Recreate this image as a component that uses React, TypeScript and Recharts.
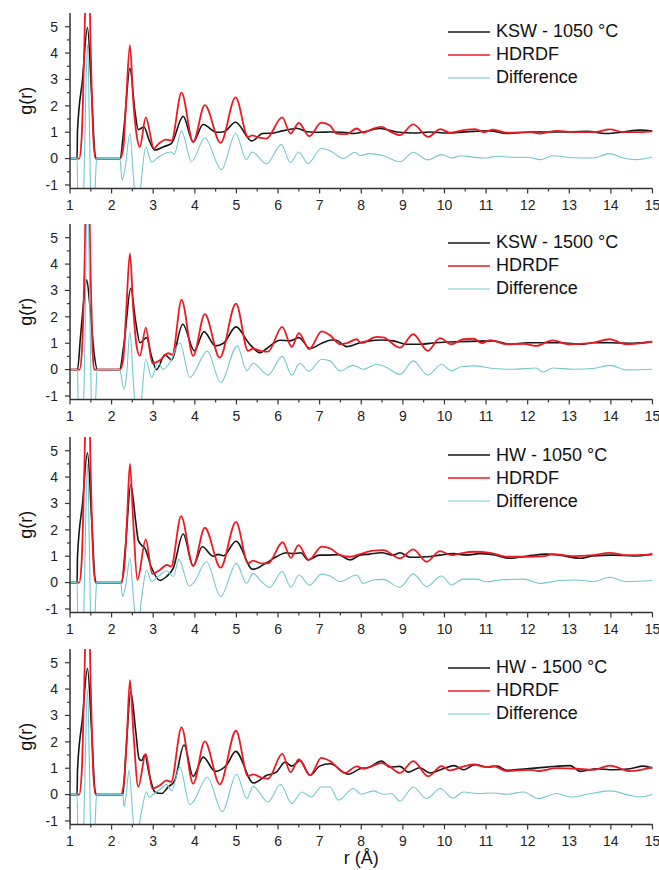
import { LineChart, Line, XAxis, YAxis, Legend } from 'recharts';

type Pt = [number, number];

// panel 1: KSW - 1050 °C
const ksw1050: Pt[] = [[1.0,0],[1.17,0],[1.18,1.05],[1.3,3.0],[1.42,4.97],[1.52,2.4],[1.6,0.15],[1.63,0],[2.2,0],[2.3,1.2],[2.44,3.42],[2.56,1.8],[2.64,1.1],[2.78,1.2],[2.9,0.7],[3.04,0.32],[3.25,0.45],[3.44,0.58],[3.72,1.6],[3.96,0.63],[4.2,1.29],[4.52,1.0],[4.7,1.02],[4.98,1.38],[5.37,0.67],[5.63,0.95],[5.9,0.97],[6.1,1.05],[6.33,1.12],[6.45,1.15],[6.7,1.02],[7.0,1.0],[7.25,1.01],[7.57,1.0],[7.81,0.95],[8.05,1.01],[8.45,1.14],[8.85,1.01],[9.25,0.97],[9.65,1.01],[10.05,0.97],[10.7,1.03],[11.1,1.05],[11.5,0.95],[12.06,1.01],[12.86,1.01],[13.42,1.03],[13.9,0.95],[14.3,1.01],[14.7,1.08],[15,1.04]];
const hdrdf1: Pt[] = [[1.0,0],[1.22,0],[1.28,0.8],[1.34,4],[1.42,9.3],[1.5,4],[1.56,0.8],[1.62,0],[2.2,0],[2.28,0.4],[2.35,2.2],[2.44,4.3],[2.52,2.2],[2.6,0.9],[2.68,0.44],[2.82,1.56],[3.02,0.38],[3.12,0.55],[3.32,0.72],[3.44,0.68],[3.68,2.5],[3.96,0.63],[4.24,2.03],[4.62,0.6],[4.98,2.32],[5.28,0.82],[5.38,0.88],[5.52,0.8],[5.72,0.76],[6.1,1.56],[6.3,0.95],[6.5,1.35],[6.75,0.85],[7.04,1.36],[7.25,1.25],[7.41,0.95],[7.65,0.93],[7.89,1.14],[8.05,0.98],[8.29,1.14],[8.49,1.2],[8.7,1.02],[8.93,0.89],[9.25,1.3],[9.61,0.82],[9.9,1.12],[10.13,0.98],[10.46,1.08],[10.74,1.12],[10.95,1.0],[11.17,1.1],[11.5,0.98],[12.06,1.0],[12.3,0.95],[12.7,1.05],[13.2,1.0],[13.58,1.0],[13.98,1.11],[14.3,1.0],[14.7,1.0],[15,1.03]];
const diff1: Pt[] = [[1.0,0],[1.17,0],[1.19,-1.6],[1.27,-2.5],[1.33,-1.2],[1.36,1],[1.42,4.35],[1.47,1],[1.5,-1.5],[1.55,-2.2],[1.6,-1.2],[1.64,0],[2.2,0],[2.25,-0.82],[2.33,-0.3],[2.44,0.95],[2.52,-0.6],[2.6,-2],[2.68,-1.3],[2.82,0.44],[2.96,-0.13],[3.12,0.05],[3.32,0.22],[3.44,0.25],[3.5,0.15],[3.68,1.04],[3.92,-0.12],[4.24,0.78],[4.64,-0.42],[4.98,0.95],[5.24,-0.04],[5.38,0.25],[5.72,-0.2],[6.08,0.53],[6.3,-0.15],[6.5,0.25],[6.72,-0.19],[7.04,0.38],[7.25,0.3],[7.57,0.0],[7.85,0.24],[7.97,0.11],[8.2,0.19],[8.53,0.11],[8.93,-0.12],[9.25,0.24],[9.6,-0.05],[9.93,0.15],[10.17,0.02],[10.4,0.11],[10.65,0.06],[11.0,0.02],[11.25,0.09],[11.65,0.05],[12.0,0.05],[12.3,-0.04],[12.6,0.11],[13.1,0.03],[13.57,0.02],[13.97,0.19],[14.3,0.02],[14.6,-0.04],[15,0.06]];

// panel 2: KSW - 1500 °C
const ksw1500: Pt[] = [[1.0,0],[1.18,0],[1.25,1.2],[1.33,2.6],[1.4,3.4],[1.48,2.4],[1.58,0.6],[1.66,0],[2.19,0],[2.3,1.0],[2.46,3.08],[2.58,1.8],[2.68,1.02],[2.84,1.21],[2.96,0.5],[3.08,0.0],[3.28,0.56],[3.44,0.37],[3.71,1.72],[3.99,0.71],[4.22,1.44],[4.49,0.9],[4.69,1.0],[4.99,1.62],[5.3,1.0],[5.57,0.64],[5.73,0.8],[6.05,1.11],[6.29,1.09],[6.5,1.21],[6.77,0.8],[7.05,1.0],[7.29,1.12],[7.4,1.11],[7.65,0.87],[7.97,1.02],[8.2,1.09],[8.49,1.12],[8.77,1.09],[9.09,0.96],[9.4,0.96],[9.8,1.02],[10.37,1.06],[11.17,1.09],[11.57,0.96],[12.0,1.02],[12.77,1.02],[13.33,0.96],[13.57,1.02],[14.0,1.02],[14.53,1.0],[15,1.06]];
const hdrdf2: Pt[] = [[1.0,0],[1.23,0],[1.29,0.8],[1.35,4],[1.42,10],[1.49,4],[1.54,0.8],[1.58,0],[2.2,0],[2.28,0.4],[2.35,2.2],[2.44,4.41],[2.52,2.3],[2.6,0.9],[2.68,0.52],[2.82,1.59],[2.98,0.24],[3.16,0.35],[3.36,0.62],[3.46,0.56],[3.68,2.64],[3.96,0.52],[4.24,2.1],[4.6,0.45],[4.99,2.5],[5.28,0.71],[5.4,0.8],[5.6,0.7],[5.76,0.68],[6.1,1.62],[6.33,0.86],[6.5,1.38],[6.75,0.78],[7.05,1.45],[7.25,1.3],[7.49,0.96],[7.65,1.0],[7.89,1.15],[8.0,1.0],[8.37,1.24],[8.53,1.22],[8.93,0.83],[9.25,1.34],[9.6,0.71],[9.89,1.19],[10.17,0.96],[10.45,1.15],[10.7,1.17],[10.9,1.0],[11.1,1.12],[11.5,0.96],[11.9,0.98],[12.2,0.9],[12.6,1.11],[13.0,0.96],[13.5,1.0],[13.97,1.15],[14.37,0.96],[15,1.06]];
const diff2: Pt[] = [[1.0,0],[1.18,0],[1.2,-1.6],[1.28,-2.6],[1.34,-0.5],[1.42,7],[1.49,1],[1.52,-1.6],[1.57,-2.2],[1.62,-1.0],[1.65,0],[2.19,0],[2.3,-0.75],[2.36,-0.2],[2.44,1.43],[2.52,-0.4],[2.6,-2],[2.7,-1.4],[2.82,0.39],[2.96,-0.3],[3.12,0.27],[3.24,0.01],[3.4,0.27],[3.64,1.02],[3.88,-0.3],[4.3,0.7],[4.62,-0.49],[5.02,0.9],[5.25,-0.05],[5.4,0.24],[5.76,-0.21],[6.1,0.5],[6.33,-0.21],[6.52,0.24],[6.74,-0.06],[7.05,0.39],[7.25,0.33],[7.49,-0.05],[7.8,0.16],[8.05,0.01],[8.37,0.2],[8.57,0.11],[8.93,-0.18],[9.25,0.33],[9.6,-0.21],[9.93,0.2],[10.17,-0.05],[10.4,0.11],[10.7,0.14],[11.17,0.04],[11.65,0.01],[12.2,0.06],[12.37,-0.09],[12.6,0.06],[13.1,0.01],[13.57,0.04],[13.97,0.16],[14.37,-0.01],[15,0.01]];

// panel 3: HW - 1050 °C
const hw1050: Pt[] = [[1.0,0],[1.17,0],[1.18,0.98],[1.3,3.0],[1.42,4.92],[1.52,2.4],[1.6,0.15],[1.63,0],[2.24,0],[2.33,1.3],[2.46,3.71],[2.58,2.3],[2.64,1.61],[2.72,1.42],[2.8,1.3],[2.95,0.6],[3.16,0.08],[3.32,0.23],[3.48,0.54],[3.72,1.84],[3.96,0.63],[4.18,1.36],[4.44,1.0],[4.56,1.07],[4.69,1.02],[4.99,1.57],[5.39,0.5],[5.72,0.75],[5.96,0.98],[6.2,1.13],[6.36,1.1],[6.55,1.13],[6.72,0.86],[7.0,1.04],[7.17,1.04],[7.45,1.06],[7.73,0.86],[7.97,1.04],[8.2,1.08],[8.49,1.13],[8.77,1.04],[8.93,1.13],[9.17,0.96],[9.57,0.98],[9.89,1.04],[10.21,1.1],[10.53,1.04],[10.85,1.1],[11.17,1.06],[11.57,0.92],[12.0,1.01],[12.45,1.08],[12.77,1.04],[13.25,0.92],[13.57,1.01],[14.05,1.04],[14.53,1.01],[15,1.08]];
const hdrdf3: Pt[] = [[1.0,0],[1.22,0],[1.28,0.8],[1.34,4],[1.42,9.5],[1.5,4],[1.56,0.8],[1.62,0],[2.22,0],[2.3,0.5],[2.37,2.4],[2.44,4.5],[2.52,2.3],[2.62,0.1],[2.82,1.64],[2.98,0.33],[3.16,0.48],[3.33,0.67],[3.43,0.6],[3.67,2.52],[3.96,0.63],[4.24,2.08],[4.62,0.57],[4.99,2.3],[5.28,0.73],[5.4,0.83],[5.6,0.73],[5.76,0.73],[6.11,1.53],[6.31,0.94],[6.49,1.42],[6.74,0.86],[7.05,1.36],[7.25,1.3],[7.49,1.04],[7.73,0.98],[7.97,1.08],[8.29,1.21],[8.53,1.23],[8.93,0.92],[9.25,1.26],[9.57,0.79],[9.89,1.19],[10.17,1.04],[10.37,1.1],[10.7,1.17],[11.1,1.13],[11.5,0.98],[12.0,0.98],[12.4,1.0],[12.6,1.08],[13.1,1.0],[13.57,1.04],[13.97,1.13],[14.37,1.04],[15,1.06]];
const diff3: Pt[] = [[1.0,0],[1.17,0],[1.19,-1.6],[1.27,-2.5],[1.33,-1.2],[1.36,1],[1.42,4.5],[1.47,1],[1.5,-1.5],[1.55,-2.2],[1.6,-1.2],[1.64,0],[2.22,0],[2.26,-0.53],[2.34,-0.1],[2.44,0.92],[2.52,-0.5],[2.62,-1.8],[2.72,-0.6],[2.84,0.48],[2.96,0.04],[3.12,0.23],[3.32,0.45],[3.48,0.23],[3.62,0.88],[3.86,-0.13],[3.96,-0.03],[4.28,0.79],[4.62,-0.53],[5.0,0.73],[5.24,-0.03],[5.4,0.35],[5.6,0.04],[5.8,-0.18],[6.1,0.42],[6.31,-0.18],[6.5,0.29],[6.76,-0.1],[7.04,0.32],[7.25,0.25],[7.49,0.04],[7.89,0.29],[8.05,-0.03],[8.29,0.1],[8.53,0.12],[8.93,-0.18],[9.25,0.33],[9.57,-0.15],[9.93,0.25],[10.17,-0.09],[10.45,0.13],[10.78,0.13],[11.02,0.03],[11.33,0.1],[11.9,0.13],[12.3,-0.03],[12.77,0.08],[13.17,0.1],[13.57,0.04],[13.97,0.2],[14.37,0.04],[15,0.08]];

// panel 4: HW - 1500 °C
const hw1500: Pt[] = [[1.0,0],[1.17,0],[1.18,0.92],[1.3,2.9],[1.42,4.78],[1.52,2.4],[1.6,0.15],[1.63,0],[2.27,0],[2.34,1.5],[2.46,3.89],[2.58,2.4],[2.66,1.36],[2.72,1.29],[2.8,1.51],[2.9,0.8],[3.04,0.1],[3.2,0.04],[3.36,0.29],[3.52,0.54],[3.74,1.88],[3.96,0.69],[4.2,1.42],[4.49,0.88],[4.77,1.13],[4.98,1.64],[5.41,0.44],[5.73,0.73],[5.96,0.85],[6.17,1.23],[6.33,1.08],[6.53,1.29],[6.77,0.73],[7.0,1.08],[7.25,1.17],[7.69,0.77],[7.97,0.98],[8.2,1.04],[8.49,1.27],[8.69,1.04],[8.93,1.07],[9.13,0.85],[9.41,1.02],[9.65,0.82],[9.97,0.98],[10.23,1.1],[10.46,0.94],[10.74,1.14],[11.02,1.04],[11.26,1.08],[11.5,0.92],[11.98,0.98],[12.46,1.04],[13.02,1.1],[13.26,0.88],[13.66,0.98],[14.06,0.94],[14.46,0.98],[14.78,1.08],[15,1.0]];
const hdrdf4: Pt[] = [[1.0,0],[1.22,0],[1.28,0.8],[1.34,4],[1.42,9],[1.5,4],[1.56,0.8],[1.62,0],[2.22,0],[2.3,0.5],[2.37,2.3],[2.44,4.34],[2.53,2.2],[2.64,0.29],[2.82,1.54],[2.98,0.23],[3.16,0.35],[3.32,0.54],[3.43,0.48],[3.68,2.55],[3.96,0.41],[4.24,2.02],[4.6,0.39],[4.99,2.42],[5.28,0.69],[5.4,0.77],[5.6,0.64],[5.76,0.6],[6.1,1.54],[6.3,0.85],[6.5,1.33],[6.77,0.73],[7.04,1.39],[7.25,1.27],[7.61,0.82],[7.89,1.07],[8.05,0.98],[8.29,1.1],[8.49,1.19],[8.65,1.1],[8.93,0.82],[9.25,1.27],[9.61,0.69],[9.93,1.08],[10.13,0.92],[10.46,1.07],[10.69,1.14],[11.02,1.04],[11.17,1.08],[11.5,0.89],[12.06,0.94],[12.26,0.89],[12.7,1.0],[13.18,0.98],[13.58,0.94],[13.98,1.1],[14.46,0.89],[15,1.04]];
const diff4: Pt[] = [[1.0,0],[1.17,0],[1.19,-1.6],[1.27,-2.4],[1.33,-1.2],[1.36,0.8],[1.42,4.0],[1.47,0.8],[1.5,-1.5],[1.55,-2.2],[1.6,-1.2],[1.64,0],[2.27,0],[2.3,-0.46],[2.35,0.0],[2.42,0.92],[2.5,-0.6],[2.58,-1.8],[2.7,-0.8],[2.84,0.1],[2.9,-0.1],[3.02,0.04],[3.24,0.29],[3.32,0.39],[3.44,0.14],[3.64,1.04],[3.88,-0.38],[3.96,-0.28],[4.3,0.66],[4.66,-0.65],[5.0,0.77],[5.25,-0.15],[5.4,0.31],[5.76,-0.28],[6.06,0.38],[6.33,-0.34],[6.57,0.1],[6.8,-0.09],[7.04,0.29],[7.25,0.29],[7.45,-0.21],[7.81,0.23],[8.0,0.01],[8.29,0.14],[8.53,0.01],[8.73,0.04],[8.93,-0.25],[9.25,0.29],[9.57,-0.15],[9.9,0.23],[10.2,-0.13],[10.46,0.1],[10.78,0.04],[11.17,0.06],[11.5,0.01],[11.9,0.1],[12.26,-0.15],[12.7,0.04],[13.02,-0.09],[13.42,0.01],[13.98,0.14],[14.46,-0.03],[14.7,-0.09],[15,0.01]];

const sampleNames = ['KSW - 1050 °C', 'KSW - 1500 °C', 'HW - 1050 °C', 'HW - 1500 °C'];
const xTicks = [1, 1.5, 2, 2.5, 3, 3.5, 4, 4.5, 5, 5.5, 6, 6.5, 7, 7.5, 8, 8.5, 9, 9.5, 10, 10.5, 11, 11.5, 12, 12.5, 13, 13.5, 14, 14.5, 15];
const yTicks = [-1, -0.5, 0, 0.5, 1, 1.5, 2, 2.5, 3, 3.5, 4, 4.5, 5];

const panels = [
  { name: sampleNames[0], sample: ksw1050, model: hdrdf1, diff: diff1 },
  { name: sampleNames[1], sample: ksw1500, model: hdrdf2, diff: diff2 },
  { name: sampleNames[2], sample: hw1050, model: hdrdf3, diff: diff3 },
  { name: sampleNames[3], sample: hw1500, model: hdrdf4, diff: diff4 },
];

const FONT = '"Liberation Sans", Arial, sans-serif';
const AXIS = '#333333';
const BLACK = '#161616';
const RED = '#ec1a22';
const CYAN = '#74c8d2';
const PLOT_TOPS = [13.3, 224.3, 436.7, 649];
const PLOT_H = 175.4;
const Y_DOMAIN: [number, number] = [-1.13, 5.52];

const toRows = (pts: Pt[]) => pts.map(([r, g]) => ({ r, g }));

function XTick({ x, y, payload }: any) {
  const major = Number.isInteger(payload.value);
  return (
    <g>
      <line x1={x} x2={x} y1={y} y2={y + (major ? 5 : 3)} stroke={AXIS} strokeWidth={1.2} />
      {major && (
        <text x={x} y={y + 16.5} dy="0.35em" textAnchor="middle" fontSize={14} fill="#222" fontFamily={FONT}>
          {payload.value}
        </text>
      )}
    </g>
  );
}

function YTick({ x, y, payload }: any) {
  const major = Number.isInteger(payload.value);
  return (
    <g>
      <line x1={x - (major ? 5 : 3)} x2={x} y1={y} y2={y} stroke={AXIS} strokeWidth={1.2} />
      {major && (
        <text x={x - 12} y={y} dy="0.35em" textAnchor="end" fontSize={14} fill="#222" fontFamily={FONT}>
          {payload.value}
        </text>
      )}
    </g>
  );
}

function LegendBox({ payload, order }: any) {
  const items = [...(payload || [])].sort((a: any, b: any) => order.indexOf(a.value) - order.indexOf(b.value));
  return (
    <div style={{ fontFamily: FONT }}>
      {items.map((item: any) => (
        <div key={item.value} style={{ display: 'flex', alignItems: 'center', height: 23 }}>
          <svg width={42} height={4} style={{ marginRight: 6 }}>
            <line x1={0} x2={42} y1={2} y2={2} stroke={item.color} strokeWidth={item.color === CYAN ? 1.2 : 1.7} />
          </svg>
          <span style={{ fontSize: 18, color: '#111', lineHeight: '23px' }}>{item.value}</span>
        </div>
      ))}
    </div>
  );
}

function Panel({ idx }: { idx: number }) {
  const p = panels[idx];
  const last = idx === panels.length - 1;
  const bottomH = last ? 47 : 40;
  return (
    <div style={{ position: 'absolute', left: 0, top: PLOT_TOPS[idx] - 10 }}>
      <LineChart width={659} height={10 + PLOT_H + bottomH} margin={{ top: 10, right: 6.5, bottom: 0, left: 0 }}>
        <XAxis
          dataKey="r"
          type="number"
          domain={[1, 15]}
          ticks={xTicks}
          interval={0}
          allowDataOverflow
          height={bottomH}
          tickSize={0}
          tickMargin={0}
          tickLine={false}
          tick={<XTick />}
          axisLine={{ stroke: AXIS, strokeWidth: 1.5 }}
          label={
            last
              ? (props: any) => {
                  const vb = props.viewBox;
                  return (
                    <text x={vb.x + vb.width / 2} y={vb.y + 40} textAnchor="middle" fontSize={18} fill="#111" fontFamily={FONT}>
                      r (Å)
                    </text>
                  );
                }
              : undefined
          }
        />
        <XAxis xAxisId="top" orientation="top" type="number" domain={[1, 15]} height={0} tick={false} tickLine={false} axisLine={{ stroke: AXIS, strokeWidth: 1.5 }} />
        <YAxis
          type="number"
          domain={Y_DOMAIN}
          ticks={yTicks}
          interval={0}
          allowDataOverflow
          width={70}
          tickSize={0}
          tickMargin={0}
          tickLine={false}
          tick={<YTick />}
          axisLine={{ stroke: AXIS, strokeWidth: 1.5 }}
          label={(props: any) => {
            const vb = props.viewBox;
            const cx = vb.x + 26;
            const cy = vb.y + vb.height / 2;
            return (
              <text x={cx} y={cy} dy="0.35em" textAnchor="middle" fontSize={18} fill="#111" fontFamily={FONT} transform={`rotate(-90 ${cx} ${cy})`}>
                g(r)
              </text>
            );
          }}
        />
        <YAxis yAxisId="right" orientation="right" type="number" domain={Y_DOMAIN} width={0} tick={false} tickLine={false} axisLine={{ stroke: AXIS, strokeWidth: 1.5 }} />
        <Legend
          layout="vertical"
          align="center"
          verticalAlign="middle"
          content={<LegendBox order={[p.name, 'HDRDF', 'Difference']} />}
          wrapperStyle={{ left: 448, top: 17.2, width: 210 }}
        />
        <Line data={toRows(p.sample)} dataKey="g" name={p.name} type="monotone" stroke={BLACK} strokeWidth={1.6} dot={false} isAnimationActive={false} />
        <Line data={toRows(p.model)} dataKey="g" name="HDRDF" type="monotone" stroke={RED} strokeWidth={1.8} dot={false} isAnimationActive={false} />
        <Line data={toRows(p.diff)} dataKey="g" name="Difference" type="monotone" stroke={CYAN} strokeWidth={1.1} dot={false} isAnimationActive={false} />
      </LineChart>
    </div>
  );
}

export default function App() {
  return (
    <div style={{ position: 'absolute', left: 0, top: 0, width: 659, height: 870, background: '#fff', fontFamily: FONT }}>
      {panels.map((_, i) => (
        <Panel key={i} idx={i} />
      ))}
    </div>
  );
}
